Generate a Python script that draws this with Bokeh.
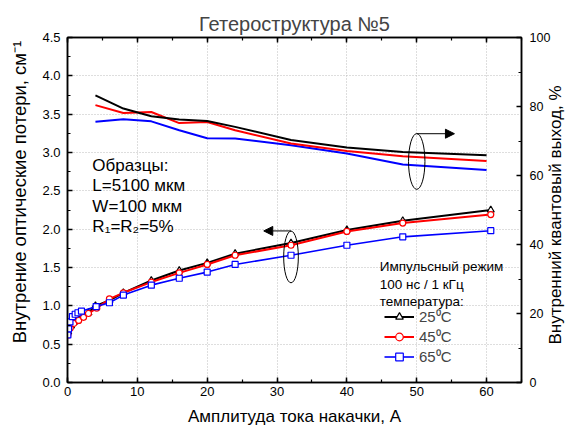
from bokeh.plotting import figure
from bokeh.models import (Range1d, LinearAxis, SingleIntervalTicker, NumeralTickFormatter,
                          Legend, LegendItem, Label, Arrow, NormalHead, FixedTicker)
from bokeh.embed import file_html
from bokeh.resources import INLINE
import math

# ---- data: internal optical loss (left axis, cm^-1) ----
loss_x_25 = [0.1, 0.5, 1.0, 1.5, 2.0, 3.0, 4.0, 6.0, 8.0, 12.0, 16.0, 20.0, 24.0, 32.0, 40.0, 48.0, 60.6]
loss_y_25 = [0.66, 0.74, 0.79, 0.82, 0.86, 0.91, 1.00, 1.07, 1.17, 1.33, 1.46, 1.56, 1.68, 1.82, 1.99, 2.11, 2.25]
loss_x_45 = [0.05, 0.4, 0.9, 1.6, 2.3, 3.0, 4.2, 6.0, 8.0, 12.0, 16.0, 20.0, 24.0, 32.0, 40.0, 48.0, 60.6]
loss_y_45 = [0.62, 0.71, 0.77, 0.81, 0.85, 0.90, 0.97, 1.09, 1.17, 1.31, 1.43, 1.54, 1.66, 1.79, 1.97, 2.08, 2.19]
loss_x_65 = [0.05, 0.15, 0.35, 0.7, 1.1, 1.5, 2.0, 4.1, 6.0, 8.0, 12.0, 16.0, 20.0, 24.0, 32.0, 40.0, 48.0, 60.6]
loss_y_65 = [0.62, 0.70, 0.79, 0.86, 0.89, 0.91, 0.93, 0.99, 1.04, 1.14, 1.27, 1.36, 1.44, 1.54, 1.66, 1.79, 1.90, 1.98]

# ---- data: internal quantum efficiency (right axis, %) ----
qe_x = [4, 8, 12, 16, 20, 24, 32, 40, 48, 60]
qe_25 = [83.2, 79.4, 77.2, 76.2, 75.8, 74.1, 70.3, 68.1, 66.8, 65.9]
qe_45 = [80.4, 78.1, 78.4, 75.2, 75.5, 73.1, 69.3, 67.1, 65.6, 64.2]
qe_65 = [75.6, 76.3, 75.7, 73.1, 70.8, 70.7, 68.8, 66.4, 63.2, 61.6]

series_labels = ["25⁰C", "45⁰C", "65⁰C"]
title_text = "Гетероструктура №5"
x_label = "Амплитуда тока накачки, А"
y_label = "Внутрение оптические потери, см⁻¹"
y2_label = "Внутренний квантовый выход, %"
sample_lines = ["Образцы:", "L=5100 мкм", "W=100 мкм", "R₁=R₂=5%"]
mode_lines = ["Импульсный режим", "100 нс / 1 кГц", "температура:"]

FONT = "Liberation Sans"

p = figure(width=577, height=428, output_backend="svg", toolbar_location=None,
           x_range=Range1d(0, 65), y_range=Range1d(0, 4.5),
           min_border_left=67, min_border_right=49, min_border_top=37, min_border_bottom=45,
           title=title_text)
p.extra_y_ranges = {"qe": Range1d(0, 100)}

p.title.text_font = FONT
p.title.text_font_size = "20px"
p.title.text_font_style = "normal"
p.title.align = "center"
p.title.standoff = 6

def style_axis(ax):
    ax.axis_line_width = 1.5
    ax.axis_line_color = "black"
    ax.major_tick_in = 5
    ax.major_tick_out = 0
    ax.minor_tick_in = 3
    ax.minor_tick_out = 0
    ax.major_tick_line_width = 1.5
    ax.minor_tick_line_width = 1.2
    ax.major_label_text_font = FONT
    ax.major_label_text_font_size = "13px"
    ax.major_label_text_color = "black"
    ax.axis_label_text_font = FONT
    ax.axis_label_text_font_size = "17px"
    ax.axis_label_text_font_style = "normal"
    ax.axis_label_text_color = "black"

xt = SingleIntervalTicker(interval=10, num_minor_ticks=2)
yt = SingleIntervalTicker(interval=0.5, num_minor_ticks=2)
y2t = SingleIntervalTicker(interval=20, num_minor_ticks=2)

xa = p.xaxis[0]
xa.ticker = xt
xa.axis_label = x_label
style_axis(xa)
xa.major_label_standoff = 4
xa.axis_label_standoff = 8

ya = p.yaxis[0]
ya.ticker = yt
ya.formatter = NumeralTickFormatter(format="0.0")
style_axis(ya)
ya.axis_label = "\u00a0" * 7 + y_label
ya.axis_label_text_font_size = "18.5px"
ya.major_label_standoff = 7
ya.axis_label_standoff = 9

ra = LinearAxis(y_range_name="qe", ticker=y2t)
style_axis(ra)
ra.major_label_text_font_size = "12.5px"
ra.major_label_standoff = 8
p.add_layout(ra, "right")

# second right axis carrying only the (bottom-to-top) title of the right scale
la = LinearAxis(y_range_name="qe", ticker=FixedTicker(ticks=[11], minor_ticks=[]))
style_axis(la)
la.axis_line_color = None
la.major_tick_line_color = None
la.minor_tick_line_color = None
la.major_label_overrides = {11: y2_label}
la.major_label_orientation = math.pi / 2
la.major_label_text_font_size = "17px"
la.major_label_standoff = 2
p.add_layout(la, "right")

ta = LinearAxis(ticker=SingleIntervalTicker(interval=10, num_minor_ticks=2))
style_axis(ta)
ta.major_label_text_color = None
ta.major_label_text_font_size = "1px"
ta.major_label_standoff = 0
p.add_layout(ta, "above")

p.xgrid.ticker = xt
p.ygrid.ticker = yt
p.grid.grid_line_color = "#bdbdbd"
p.grid.grid_line_dash = "1 2"
p.grid.grid_line_width = 1
p.outline_line_color = "black"
p.outline_line_width = 1.5

colors = ["black", "red", "blue"]

# upper curves (QE)
for ys, c in zip([qe_65, qe_45, qe_25], ["blue", "red", "black"]):
    p.line(qe_x, ys, y_range_name="qe", line_color=c, line_width=2)

# lower curves (loss)
items = []
loss_sets = [(loss_x_25, loss_y_25, "triangle", 7), (loss_x_45, loss_y_45, "circle", 6),
             (loss_x_65, loss_y_65, "square", 6)]
renderers = []
for (xs, ys, mk, sz), c in zip(loss_sets, colors):
    lr = p.line(xs, ys, line_color=c, line_width=2 if c != "blue" else 1.6)
    mr = p.scatter(xs, ys, marker=mk, size=sz, line_color=c, fill_color="white", line_width=1.2)
    renderers.append((lr, mr))

for (lr, mr), lab in zip(renderers, series_labels):
    items.append(LegendItem(label=lab, renderers=[lr, mr]))

legend = Legend(items=items, location=(317, 16))
legend.border_line_color = None
legend.background_fill_alpha = 0
legend.padding = 0
legend.margin = 0
legend.spacing = 0
legend.label_height = 19
legend.glyph_height = 19
legend.glyph_width = 30
legend.label_standoff = 5
legend.label_text_font = FONT
legend.label_text_font_size = "15px"
p.add_layout(legend)

# ellipses and arrows
p.ellipse(x=[50.0], y=[2.883], width=2.35, height=0.728, fill_color=None,
          line_color="black", line_width=1)
p.add_layout(Arrow(end=NormalHead(size=9, fill_color="black", line_color="black"),
                   x_start=50.0, y_start=3.245, x_end=55.4, y_end=3.245,
                   line_color="black", line_width=1))
p.ellipse(x=[32.0], y=[1.638], width=2.1, height=0.676, fill_color=None,
          line_color="black", line_width=1)
p.add_layout(Arrow(end=NormalHead(size=9, fill_color="black", line_color="black"),
                   x_start=32.0, y_start=1.977, x_end=28.1, y_end=1.977,
                   line_color="black", line_width=1))

# text blocks
for i, t in enumerate(sample_lines):
    p.add_layout(Label(x=3.56, y=2.835 - i * 0.267, text=t, text_font=FONT,
                       text_font_size="17px", text_baseline="middle", text_color="black"))
for i, t in enumerate(mode_lines):
    p.add_layout(Label(x=44.7, y=1.512 - i * 0.228, text=t, text_font=FONT,
                       text_font_size="13.5px", text_baseline="middle", text_color="black"))

open("out.html", "w").write(file_html(p, INLINE))
